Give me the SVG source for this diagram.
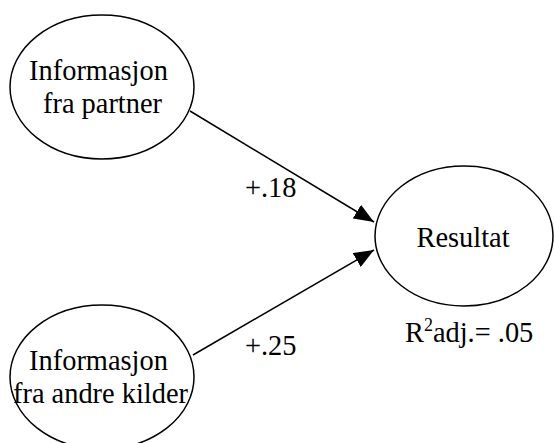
<svg xmlns="http://www.w3.org/2000/svg" width="554" height="443" viewBox="0 0 554 443">
<style>
.n{fill:#fff;stroke:#000;stroke-width:1.5}
.t{font-family:'Times New Roman',serif;font-size:28.4px;fill:#000}
.c{stroke:#000;stroke-width:1.5;fill:none}
</style>
<defs>
<marker id="ah" markerWidth="20" markerHeight="16" refX="20" refY="8" orient="auto" markerUnits="userSpaceOnUse" viewBox="0 0 20 16">
<path d="M0,0 L20,8 L0,16 z" fill="#000"/>
</marker>
</defs>
<rect width="554" height="443" fill="#fff"/>
<g id="connectors">
<line class="c" x1="190" y1="111" x2="374" y2="222" marker-end="url(#ah)"/>
<line class="c" x1="193" y1="355" x2="374" y2="250" marker-end="url(#ah)"/>
<text class="t" x="245" y="197">+.18</text>
<text class="t" x="245" y="355">+.25</text>
</g>
<g id="partner">
<ellipse class="n" cx="102" cy="87" rx="92" ry="72"/>
<text class="t" x="98.5" y="80" text-anchor="middle">Informasjon</text>
<text class="t" x="102.5" y="113" text-anchor="middle">fra partner</text>
</g>
<g id="andre">
<ellipse class="n" cx="102" cy="377" rx="92" ry="72"/>
<text class="t" x="98.5" y="370" text-anchor="middle">Informasjon</text>
<text class="t" x="100.5" y="403" text-anchor="middle">fra andre kilder</text>
</g>
<g id="resultat">
<ellipse class="n" cx="464" cy="236" rx="89" ry="70"/>
<text class="t" x="463" y="247" text-anchor="middle">Resultat</text>
</g>
<text class="t" x="405" y="342">R<tspan font-size="18" dy="-11">2</tspan><tspan dy="11">adj.= .05</tspan></text>
</svg>
